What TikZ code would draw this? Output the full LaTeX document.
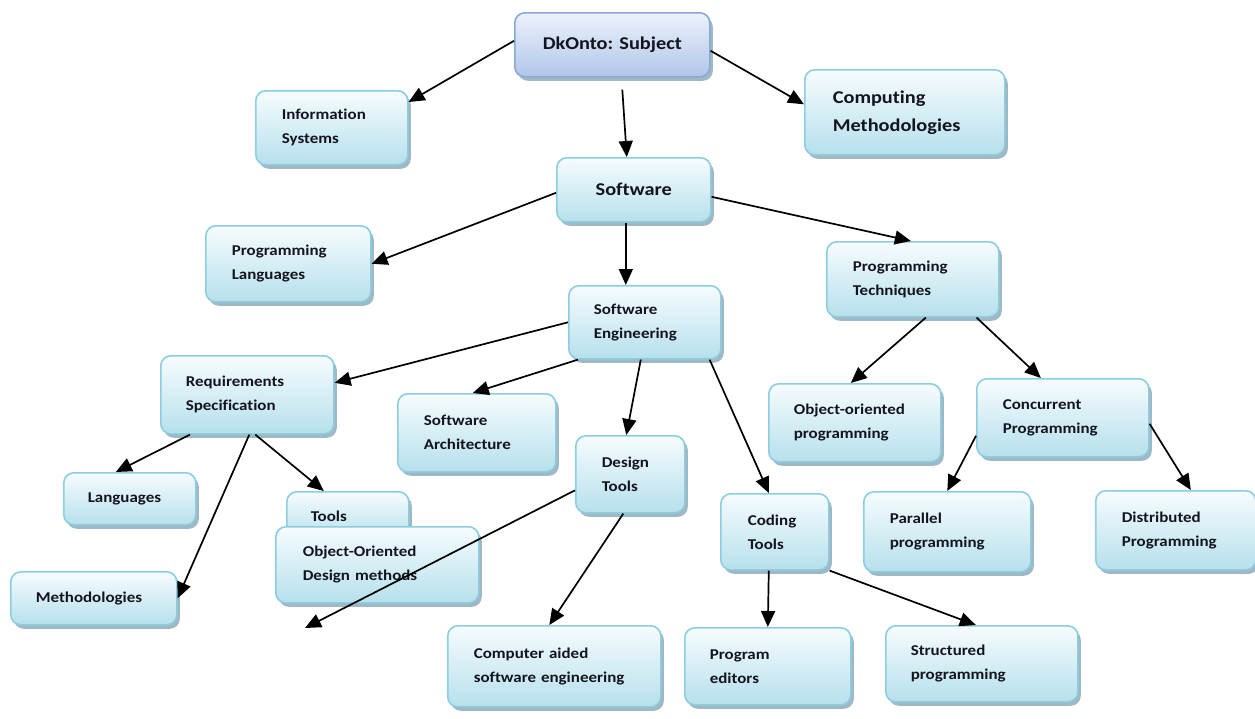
\documentclass[tikz,border=0pt]{standalone}
\usepackage{fontspec}
\setmainfont{Carlito}[FakeStretch=1.13, Ligatures=NoCommon]
\usetikzlibrary{arrows.meta,shadows,calc}
\definecolor{boxline}{RGB}{140,205,224}
\definecolor{boxtop}{RGB}{246,252,254}
\definecolor{boxbot}{RGB}{182,224,236}
\definecolor{shadowc}{RGB}{150,175,190}
\definecolor{topline}{RGB}{138,168,214}
\definecolor{toptop}{RGB}{236,242,251}
\definecolor{topbot}{RGB}{176,198,232}
\definecolor{txt}{RGB}{20,20,30}
\tikzset{
  box/.style={anchor=north west, rectangle, rounded corners=10pt,
    draw=boxline, line width=1.6pt, top color=boxtop, bottom color=boxbot,
    drop shadow={shadow xshift=3pt,shadow yshift=-4pt,fill=shadowc,opacity=0.9},
    inner xsep=26pt, inner ysep=0pt, align=left, text=txt,
    font=\bfseries\fontsize{15}{24}\selectfont},
  bigbox/.style={box, inner xsep=4pt, align=center,
    font=\bfseries\fontsize{18}{28}\selectfont},
  topbox/.style={bigbox, draw=topline, top color=toptop, bottom color=topbot},
  arr/.style={-{Triangle[length=16pt,width=14pt]}, line width=1.7pt, black}
}
\begin{document}
\begin{tikzpicture}[x=1pt,y=-1pt]
\useasboundingbox (0,0) rectangle (1255,718);
% boxes
\node[topbox, minimum width=195pt, minimum height=64pt] (top) at (514,12) {DkOnto: Subject};
\node[box, text width=100pt, minimum height=74pt] (info) at (255,90) {Information\\Systems};
\node[box, text width=144pt, minimum height=85pt, inner xsep=28pt, font=\bfseries\fontsize{18}{28}\selectfont] (comp) at (804,69) {Computing\\Methodologies};
\node[bigbox, minimum width=154pt, minimum height=64pt] (soft) at (556,157) {Software};
\node[box, text width=113pt, minimum height=76pt] (plang) at (205,225) {Programming\\Languages};
\node[box, text width=120pt, minimum height=75pt] (ptech) at (826,241) {Programming\\Techniques};
\node[box, minimum height=73pt, inner xsep=25pt, text width=102pt] (se) at (568,285) {Software\\Engineering};
\node[box, minimum height=78pt, inner xsep=25pt, text width=123pt] (req) at (160,355) {Requirements\\Specification};
\node[box, text width=106pt, minimum height=78pt] (sarch) at (397,393) {Software\\Architecture};
\node[box, inner xsep=25pt, text width=122pt, minimum height=78pt] (oop) at (768,383) {Object-oriented\\programming};
\node[box, text width=120pt, minimum height=78pt] (conc) at (976,378) {Concurrent\\Programming};
\node[box, text width=57pt, minimum height=77pt] (dtools) at (575,435) {Design\\Tools};
\node[box, inner xsep=24pt, text width=84pt, minimum height=52pt] (lang) at (63,472) {Languages};
\node[box, inner xsep=24pt, text width=74pt, minimum height=48pt] (tools) at (286,491) {Tools};
\node[box, inner xsep=27pt, text width=149pt, minimum height=76pt] (ood) at (275,526) {Object-Oriented\\Design methods};
\node[box, inner xsep=27pt, text width=54pt, minimum height=76pt] (ctools) at (720,493) {Coding\\Tools};
\node[box, text width=115pt, minimum height=80pt] (par) at (863,491) {Parallel\\programming};
\node[box, text width=108pt, minimum height=79pt] (dist) at (1095,490) {Distributed\\Programming};
\node[box, inner xsep=25pt, text width=116pt, minimum height=53pt] (meth) at (10,571) {Methodologies};
\node[box, text width=161pt, minimum height=81pt] (case) at (447,625) {Computer aided\\software engineering};
\node[box, inner xsep=25pt, text width=116pt, minimum height=77pt] (pedit) at (684,627) {Program\\editors};
\node[box, inner xsep=25pt, text width=142pt, minimum height=76pt] (struct) at (885,625) {Structured\\programming};
\coordinate (dtend) at (305,628);
% connectors
\draw[arr] ([yshift=4pt]top.west) -- ([yshift=-12pt]info.north east);
\draw[arr] ([xshift=10pt,yshift=-12pt]top.south) -- ([xshift=-7pt]soft.north);
\draw[arr] ([yshift=-6pt]top.east) -- ([yshift=8pt]comp.west);
\draw[arr] ([yshift=-3pt]soft.west) -- (plang.east);
\draw[arr] ([xshift=-8pt]soft.south) -- ([xshift=-19pt]se.north);
\draw[arr] ([yshift=-7pt]soft.east) -- ([xshift=-2pt]ptech.north);
\draw[arr] (se.west) -- ([yshift=12pt]req.east);
\draw[arr] ([xshift=10pt]se.south west) -- ([xshift=-4pt]sarch.north);
\draw[arr] ([xshift=-4pt]se.south) -- ([xshift=-4pt]dtools.north);
\draw[arr] ([xshift=-12pt]se.south east) -- ([xshift=-6pt]ctools.north);
\draw[arr] ([xshift=13pt]ptech.south) -- ([xshift=-4pt]oop.north);
\draw[arr] ([xshift=-23pt]ptech.south east) -- ([xshift=-22pt]conc.north);
\draw[arr] ([yshift=-18pt]conc.west) -- (par.north);
\draw[arr] ([yshift=-6pt]conc.east) -- ([xshift=15pt]dist.north);
\draw[arr] ([xshift=30pt]req.south west) -- ([xshift=-14pt]lang.north);
\draw[arr] ([xshift=8pt]req.south) -- ([xshift=-24pt]tools.north);
\draw[arr] ([xshift=2pt]req.south) -- (meth.east);
\draw[arr] ([yshift=-16pt]dtools.west) -- (dtend);
\draw[arr] ([xshift=-7pt]dtools.south) -- ([xshift=-5pt]case.north);
\draw[arr] ([xshift=-6pt]ctools.south) -- (pedit.north);
\draw[arr] (ctools.south east) -- ([xshift=-6pt]struct.north);
\end{tikzpicture}
\end{document}
